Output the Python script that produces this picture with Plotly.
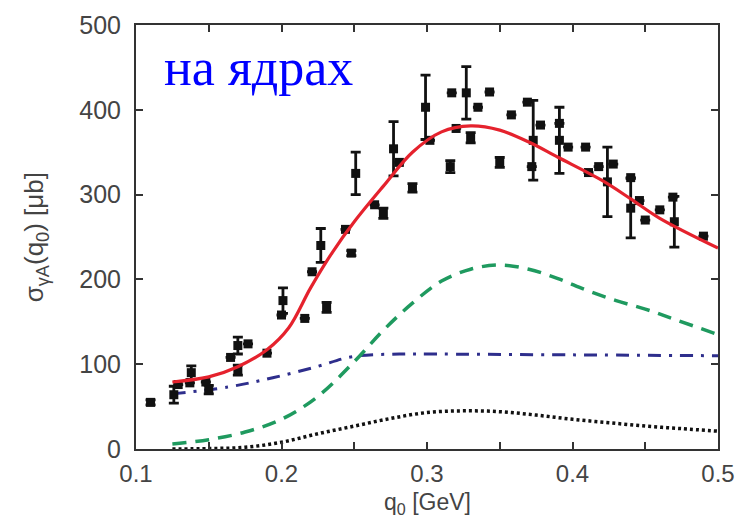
import plotly.graph_objects as go

# ---- experimental data (q0 [GeV], sigma [mub], error) ----
data_x = [0.110, 0.126, 0.129, 0.138, 0.137, 0.148, 0.150, 0.165, 0.170, 0.177,
          0.170, 0.190, 0.201, 0.200, 0.216, 0.221, 0.227, 0.231, 0.244, 0.248,
          0.251, 0.264, 0.270, 0.277, 0.281, 0.290, 0.299, 0.302, 0.316, 0.317,
          0.320, 0.327, 0.330, 0.335, 0.343, 0.350, 0.358, 0.369, 0.372, 0.373,
          0.378, 0.391, 0.391, 0.397, 0.409, 0.411, 0.418, 0.424, 0.428, 0.440,
          0.440, 0.446, 0.450, 0.460, 0.469, 0.470, 0.490]
data_y = [55, 64, 76, 90, 78, 79, 70, 108, 122, 124,
          93, 113, 175, 158, 154, 209, 240, 167, 259, 231,
          325, 288, 278, 354, 338, 308, 403, 364, 333, 420,
          378, 420, 367, 403, 421, 338, 394, 409, 333, 364,
          382, 364, 384, 356, 356, 326, 333, 315, 336, 320,
          284, 293, 270, 282, 297, 268, 251]
data_err = [3, 10, 0, 8, 0, 0, 5, 0, 10, 0,
            6, 0, 15, 0, 0, 0, 20, 6, 0, 3,
            25, 0, 6, 32, 0, 5, 38, 0, 7, 0,
            0, 31, 6, 0, 0, 6, 0, 0, 0, 47,
            0, 39, 0, 0, 0, 0, 0, 41, 0, 0,
            35, 0, 0, 0, 0, 30, 0]

# ---- model curves ----
total_x = [0.125, 0.15, 0.17, 0.19, 0.205, 0.22, 0.235, 0.25, 0.27, 0.29,
           0.31, 0.33, 0.35, 0.37, 0.39, 0.42, 0.44, 0.46, 0.5]
total_y = [79, 85, 97, 117, 143, 190, 232, 268, 310, 350,
           374, 381, 376, 362, 344, 317, 295, 272, 237]

green_x = [0.125, 0.15, 0.175, 0.2, 0.225, 0.25, 0.27, 0.29, 0.31, 0.33,
           0.35, 0.37, 0.39, 0.41, 0.43, 0.45, 0.47, 0.5]
green_y = [6, 11, 20, 35, 62, 103, 140, 172, 198, 212,
           217, 212, 201, 187, 175, 165, 153, 135]

blue_x = [0.125, 0.163, 0.194, 0.224, 0.249, 0.281, 0.3, 0.4, 0.5]
blue_y = [65, 73, 84, 97, 109, 112, 112, 111, 110]

black_x = [0.125, 0.15, 0.175, 0.2, 0.225, 0.25, 0.275, 0.3, 0.325, 0.35,
           0.375, 0.4, 0.425, 0.45, 0.475, 0.5]
black_y = [0, 0.5, 2, 8, 18, 27, 36, 43, 45, 44,
           40, 35, 31, 27, 24, 21]

fig = go.Figure()
fig.add_trace(go.Scatter(x=black_x, y=black_y, mode="lines", line_shape="spline",
                         line=dict(color="#111111", width=3.5, dash="3px,3px"), showlegend=False))
fig.add_trace(go.Scatter(x=blue_x, y=blue_y, mode="lines", line_shape="spline",
                         line=dict(color="#2e2e8c", width=3, dash="13px,8px,3px,8px"), showlegend=False))
fig.add_trace(go.Scatter(x=green_x, y=green_y, mode="lines", line_shape="spline",
                         line=dict(color="#1f9a5f", width=3.5, dash="14px,9px"), showlegend=False))
fig.add_trace(go.Scatter(x=data_x, y=data_y, mode="markers",
                         marker=dict(symbol="square", size=9, color="#111111"),
                         error_y=dict(type="data", array=data_err, visible=True,
                                      color="#111111", thickness=2.8, width=5),
                         showlegend=False))
fig.add_trace(go.Scatter(x=total_x, y=total_y, mode="lines", line_shape="spline",
                         line=dict(color="#e5222d", width=3.2), showlegend=False))

x_ticks = [0.1, 0.15, 0.2, 0.25, 0.3, 0.35, 0.4, 0.45, 0.5]
x_ticklabels = ["0.1", "", "0.2", "", "0.3", "", "0.4", "", "0.5"]
y_ticks = [0, 100, 200, 300, 400, 500]
y_ticklabels = ["0", "100", "200", "300", "400", "500"]

fam = "Liberation Sans, Arial, sans-serif"

fig.update_layout(
    width=743, height=522,
    margin=dict(l=136, r=25, t=25, b=73, autoexpand=False),
    plot_bgcolor="white", paper_bgcolor="white",
    xaxis=dict(range=[0.1, 0.5], tickvals=x_ticks, ticktext=x_ticklabels,
               ticks="inside", ticklen=7, tickwidth=1.5, tickcolor="#333333",
               showline=True, linecolor="#333333", linewidth=2, mirror="ticks",
               showgrid=False, zeroline=False,
               tickfont=dict(family=fam, size=24, color="#444444"),
               ticklabelstandoff=2, automargin=False),
    yaxis=dict(range=[0, 500], tickvals=y_ticks, ticktext=y_ticklabels,
               ticks="inside", ticklen=7, tickwidth=1.5, tickcolor="#333333",
               showline=True, linecolor="#333333", linewidth=2, mirror="ticks",
               showgrid=False, zeroline=False,
               tickfont=dict(family=fam, size=25, color="#444444"),
               ticklabelstandoff=8, automargin=False),
    annotations=[
        dict(text="на ядрах", xref="paper", yref="paper", x=0.045, y=0.9,
             xanchor="left", yanchor="middle", showarrow=False,
             font=dict(family="Liberation Serif, Times New Roman, serif", size=52, color="#0000ff")),
        dict(text="q<sub>0</sub> [GeV]", xref="paper", yref="paper", x=0.5, y=-0.168,
             xanchor="center", yanchor="bottom", showarrow=False,
             font=dict(family=fam, size=23, color="#444444")),
        dict(text="σ<sub>γA</sub>(q<sub>0</sub>) [μb]", xref="paper", yref="paper", x=-0.173, y=0.5,
             xanchor="center", yanchor="middle", showarrow=False, textangle=-90,
             font=dict(family=fam, size=26, color="#444444")),
    ],
)

fig.write_html("out.html")
